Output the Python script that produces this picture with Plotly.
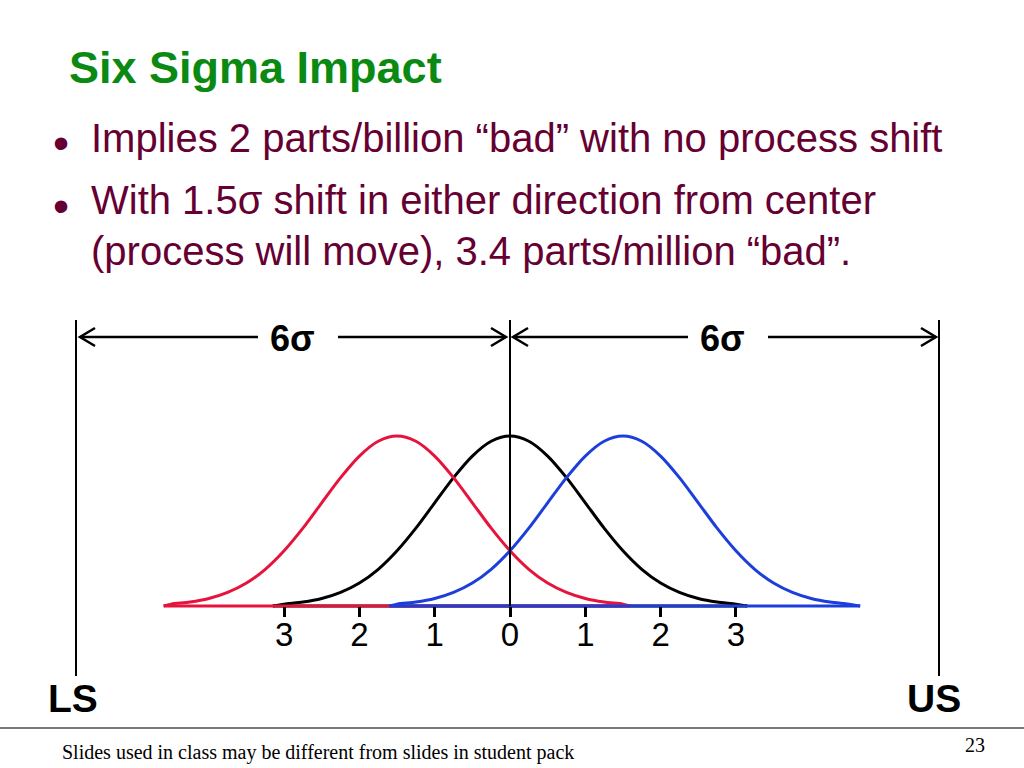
import plotly.graph_objects as go

W, H = 1024, 768

# ---------------- data ----------------
# centred process (black), sigma units on x, height relative to peak on y
black_x = [-3.15, -3.0, -2.75, -2.5, -2.25, -2.0, -1.75, -1.5, -1.25, -1.0, -0.75, -0.5, -0.25, 0.0,
           0.25, 0.5, 0.75, 1.0, 1.25, 1.5, 1.75, 2.0, 2.25, 2.5, 2.75, 3.0, 3.15]
black_y = [0.0, 0.011, 0.023, 0.044, 0.080, 0.135, 0.216, 0.325, 0.458, 0.607, 0.755, 0.882, 0.969, 1.0,
           0.969, 0.882, 0.755, 0.607, 0.458, 0.325, 0.216, 0.135, 0.080, 0.044, 0.023, 0.011, 0.0]
black_base = [-3.15, 3.15]

# process shifted 1.5 sigma to the left (red)
red_x = [-4.6, -4.5, -4.25, -4.0, -3.75, -3.5, -3.25, -3.0, -2.75, -2.5, -2.25, -2.0, -1.75, -1.5,
         -1.25, -1.0, -0.75, -0.5, -0.25, 0.0, 0.25, 0.5, 0.75, 1.0, 1.25, 1.5, 1.6]
red_y = [0.0, 0.011, 0.023, 0.044, 0.080, 0.135, 0.216, 0.325, 0.458, 0.607, 0.755, 0.882, 0.969, 1.0,
         0.969, 0.882, 0.755, 0.607, 0.458, 0.325, 0.216, 0.135, 0.080, 0.044, 0.023, 0.011, 0.0]
red_base = [-4.6, 1.6]

# process shifted 1.5 sigma to the right (blue)
blue_x = [-1.6, -1.5, -1.25, -1.0, -0.75, -0.5, -0.25, 0.0, 0.25, 0.5, 0.75, 1.0, 1.25, 1.5,
          1.75, 2.0, 2.25, 2.5, 2.75, 3.0, 3.25, 3.5, 3.75, 4.0, 4.25, 4.5, 4.65]
blue_y = [0.0, 0.011, 0.023, 0.044, 0.080, 0.135, 0.216, 0.325, 0.458, 0.607, 0.755, 0.882, 0.969, 1.0,
          0.969, 0.882, 0.755, 0.607, 0.458, 0.325, 0.216, 0.135, 0.080, 0.044, 0.023, 0.011, 0.0]
blue_base = [-1.6, 4.65]

tick_vals = [-3, -2, -1, 0, 1, 2, 3]
tick_text = ["3", "2", "1", "0", "1", "2", "3"]

title_text = "Six Sigma Impact"
bullet_lines = [
    "Implies 2 parts/billion “bad” with no process shift",
    "With 1.5σ shift in either direction from center",
    "(process will move), 3.4 parts/million “bad”.",
]
span_label = "6σ"
limit_labels = ["LS", "US"]
footer_text = "Slides used in class may be different from slides in student pack"
page_number = "23"

# ---------------- styling ----------------
RED = "#e6143c"
BLUE = "#1c3fdc"
BLACK = "#000000"
GREEN = "#0a8a12"
MAROON = "#660033"
SANS = "Liberation Sans, Arial, sans-serif"
SERIF = "Liberation Serif, Times New Roman, serif"

PX_PER_SIGMA = 75.3
X0_PX = 510.0
BASE_PX = 606.0
PEAK_PX = 170.0


def px(x, y):
    return x / W, 1 - y / H


fig = go.Figure()


def add_curve(xs, ys, base, color):
    fig.add_trace(go.Scatter(x=xs, y=ys, mode="lines",
                             line=dict(color=color, width=3, shape="spline", smoothing=0.8),
                             hoverinfo="skip", showlegend=False))
    fig.add_trace(go.Scatter(x=base, y=[0, 0], mode="lines",
                             line=dict(color=color, width=3),
                             hoverinfo="skip", showlegend=False))


add_curve(black_x, black_y, black_base, BLACK)
add_curve(red_x, red_y, red_base, RED)
add_curve(blue_x, blue_y, blue_base, BLUE)

shapes = []


def pline(x0, y0, x1, y1, width=2.5, color=BLACK):
    a = px(x0, y0)
    b = px(x1, y1)
    shapes.append(dict(type="line", xref="paper", yref="paper",
                       x0=a[0], y0=a[1], x1=b[0], y1=b[1],
                       line=dict(color=color, width=width), layer="above"))


def chevron(tipx, tipy, direction):
    back = tipx - 15 * direction
    p1 = px(back, tipy - 9)
    p2 = px(tipx, tipy)
    p3 = px(back, tipy + 9)
    shapes.append(dict(type="path", xref="paper", yref="paper",
                       path=f"M {p1[0]} {p1[1]} L {p2[0]} {p2[1]} L {p3[0]} {p3[1]}",
                       line=dict(color=BLACK, width=2.5), layer="above"))


# specification limits
pline(76, 320, 76, 676, width=2)
pline(939, 320, 939, 676, width=2)
# centre line (data x = 0)
shapes.append(dict(type="line", xref="x", yref="paper", x0=0, x1=0,
                   y0=px(0, 320)[1], y1=px(0, BASE_PX)[1],
                   line=dict(color=BLACK, width=2), layer="above"))

# dimension arrows
AY = 337
pline(80, AY, 258, AY)
pline(338, AY, 506, AY)
pline(513, AY, 688, AY)
pline(768, AY, 936, AY)
chevron(80, AY, -1)
chevron(506, AY, 1)
chevron(513, AY, -1)
chevron(936, AY, 1)

# footer rule
pline(0, 728, 1024, 728, width=1.5, color="#4d4d4d")

annotations = []


def text(x, y, s, size, color=BLACK, bold=False, family=SANS, xanchor="center"):
    a = px(x, y)
    annotations.append(dict(x=a[0], y=a[1], xref="paper", yref="paper", text=(f"<b>{s}</b>" if bold else s),
                            showarrow=False, xanchor=xanchor, yanchor="middle",
                            font=dict(size=size, color=color, family=family)))


text(67, 67, title_text, 45, GREEN, bold=True, xanchor="left")
text(61, 143, "•", 46, MAROON)
text(61, 206, "•", 46, MAROON)
text(89, 138, bullet_lines[0], 40, MAROON, xanchor="left")
text(89, 200, bullet_lines[1], 40, MAROON, xanchor="left")
text(89, 251, bullet_lines[2], 40, MAROON, xanchor="left")
text(292, 338, span_label, 36, bold=True)
text(722, 338, span_label, 36, bold=True)
text(73, 698, limit_labels[0], 39, bold=True)
text(934, 698, limit_labels[1], 39, bold=True)
text(60, 752, footer_text, 20, family=SERIF, xanchor="left")
text(975, 745, page_number, 20, family=SERIF)

x_lo = -X0_PX / PX_PER_SIGMA
x_hi = (W - X0_PX) / PX_PER_SIGMA
y_lo = -(H - BASE_PX) / PEAK_PX
y_hi = BASE_PX / PEAK_PX

fig.update_layout(
    width=W, height=H, autosize=False,
    margin=dict(l=0, r=0, t=0, b=0, pad=0),
    paper_bgcolor="white", plot_bgcolor="white",
    showlegend=False,
    shapes=shapes, annotations=annotations,
    xaxis=dict(range=[x_lo, x_hi], anchor="free", position=1 - BASE_PX / H,
               tickmode="array", tickvals=tick_vals, ticktext=tick_text,
               ticks="outside", ticklen=10, tickwidth=2.5, tickcolor=BLACK,
               showline=False, showgrid=False, zeroline=False,
               tickfont=dict(size=33, color=BLACK, family=SANS), ticklabelstandoff=-11,
               fixedrange=True),
    yaxis=dict(range=[y_lo, y_hi], visible=False, domain=[0, 1], fixedrange=True),
)

fig.write_html("out.html", config={"displayModeBar": False},
               post_script="document.body.style.margin='0';document.body.style.overflow='hidden';")
